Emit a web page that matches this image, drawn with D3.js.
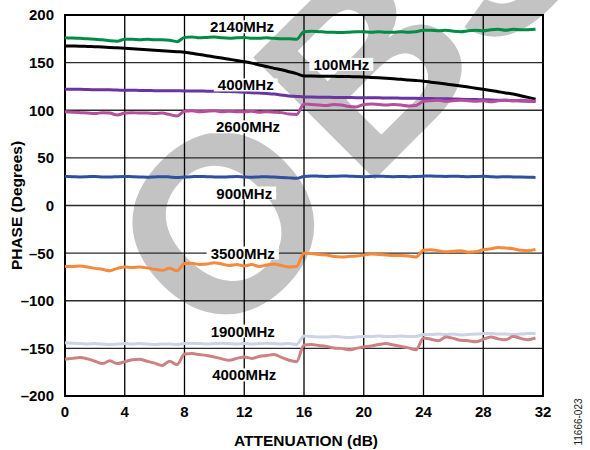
<!DOCTYPE html>
<html>
<head>
<meta charset="utf-8">
<script src="https://cdn.jsdelivr.net/npm/d3@7"></script>
<style>
  body { margin: 0; background: #fff; }
  svg text { font-family: "Liberation Sans", Arial, sans-serif; }
</style>
</head>
<body>
<svg id="chart"></svg>
<script>
const width = 590;
const height = 450;
const margin = { top: 15, right: 47, bottom: 54, left: 65 };

// attenuation steps, 0.5 dB
const attenuation = d3.range(0, 32, 0.5);

const xTicks = [0, 4, 8, 12, 16, 20, 24, 28, 32];
const yTicks = [-200, -150, -100, -50, 0, 50, 100, 150, 200];

const mhz2140 = [
  176, 175.8, 175.5, 175, 174.5, 174, 173, 172.5, 174.5, 174.5, 174, 174.5, 174, 174, 173.5, 172,
  176.5, 177, 176, 176.5, 177, 176, 175.5, 176, 176.5, 175.5, 175.5, 176, 175.5, 175, 175, 174.5,
  182.5, 183, 182.5, 182, 182, 181.5, 182, 182.5, 182.5, 182, 182.5, 182, 182, 182.5, 182, 182.5,
  184, 184, 183.5, 184, 183, 182.5, 183.5, 184, 183.5, 184.5, 185, 184, 185, 184.5, 184.5, 185
];
const mhz100 = [
  167.5, 167.4, 167.3, 167, 166.7, 166.4, 166, 165.5, 165, 164.5, 164, 163.5, 163, 162.5, 162, 161.5,
  161, 159.8, 158.5, 157.3, 156, 154.8, 153.5, 152.3, 151, 149.5, 147.5, 146, 144, 142.5, 140.5, 138.5,
  136, 135.9, 135.8, 135.7, 135.6, 135.5, 135.4, 135.2, 135, 134.5, 134, 133.5, 133, 132.5, 131.8, 131.2,
  130.5, 129.5, 128.5, 127.5, 126.5, 125.4, 124.3, 123.2, 122, 120.8, 119.5, 118.2, 117, 115.3, 113.5, 111.5
];
const mhz400 = [
  122, 122, 122, 121.8, 121.6, 121.5, 121.4, 121.2, 121, 121, 120.8, 120.7, 120.6, 120.5, 120.5, 120.4,
  120.3, 120.2, 120.2, 120, 120, 119.8, 119.6, 119.3, 119, 118.5, 118, 117.5, 117, 116, 115, 114.5,
  114, 113.8, 113.7, 113.6, 113.5, 113.4, 113.3, 113.2, 113.2, 113.1, 113, 112.9, 112.8, 112.7, 112.6, 112.5,
  112.4, 112.3, 112.1, 112, 111.8, 111.6, 111.4, 111.2, 111, 110.8, 110.6, 110.4, 110.1, 109.8, 109.5, 109.2
];
const mhz2600 = [
  98.5, 98, 97.5, 97, 96.5, 97.5, 97, 95, 97, 97.5, 97, 97, 96.5, 97, 95.5, 94,
  99, 99.5, 98.5, 99, 99.5, 98.5, 99, 98.5, 98.5, 99, 98, 98.5, 98, 97.5, 96, 95.5,
  106.5, 106, 105.5, 105, 106, 105.5, 104, 103.5, 106, 106.5, 106, 105.5, 106, 105.5, 104.5, 105,
  109.5, 110, 110.5, 109.5, 110, 110.5, 110, 109.5, 110, 109, 110, 110.5, 110, 110.5, 110, 109.5
];
const mhz900 = [
  30.5, 30.3, 30, 30.2, 30.5, 30, 29.8, 30.3, 30.5, 30.2, 30, 29.7, 30, 30.3, 30, 29.5,
  30, 30.3, 30.5, 30.2, 30, 29.8, 30.2, 30.5, 30, 29.7, 30, 30.2, 29.8, 29.5, 29, 28.5,
  30.5, 31, 30.8, 30.5, 30.7, 31, 30.8, 30.5, 30.3, 30.5, 30.8, 30.5, 30.3, 30.5, 30.2, 30.5,
  30.8, 31, 30.7, 30.5, 30.8, 30.5, 30.2, 30.5, 30.7, 30.3, 30, 30.2, 30, 29.8, 29.7, 29.5
];
const mhz3500 = [
  -64, -64, -63.5, -64.5, -66, -67, -68.5, -66, -64.5, -65, -64.5, -65.5, -67, -68, -66, -68.5,
  -61, -60.5, -62, -61.5, -60, -61.5, -63, -62, -63.5, -62, -64, -62.5, -61.5, -63, -64.5, -64,
  -50, -50.5, -51.5, -52, -53.5, -54, -53.5, -53, -52, -51, -51.5, -52, -52.5, -52.5, -53, -54,
  -47, -46.5, -47.5, -48.5, -48, -47.5, -49, -48.5, -46.5, -45.5, -44, -44.5, -45.5, -47, -47.5, -46
];
const mhz1900 = [
  -144, -144.5, -145, -145.5, -145, -145.5, -146, -145.5, -145, -145.5, -145, -145.5, -146, -145.5, -145.5, -146,
  -145, -144.5, -145, -145.5, -145, -144.5, -145, -145.5, -145, -145.5, -145, -144.5, -145, -145.5, -145, -146,
  -137, -137.5, -138, -138, -137.5, -138, -138.5, -138, -137.5, -137.5, -137, -137.5, -137.5, -137, -137.5, -137.5,
  -135.5, -135.5, -135, -135.5, -135, -136, -135.5, -135, -134.5, -134.5, -135, -135, -135.5, -135, -134.5, -134.5
];
const mhz4000 = [
  -161.5, -160.5, -159.5, -161, -163.5, -166, -163, -166, -164, -162, -161.5, -163.5, -165.5, -168, -163.5, -167,
  -156, -155.5, -156.5, -157.5, -159, -161, -162.5, -160.5, -159, -160.5, -158.5, -157.5, -156.5, -159.5, -162.5, -164,
  -146.5, -146, -147, -148, -149.5, -150, -151.5, -150, -148.5, -147.5, -146, -145, -146.5, -148, -149.5, -151.5,
  -139, -140.5, -142, -138, -139.5, -141.5, -142, -143, -140.5, -138, -140, -141, -137.5, -139.5, -141, -139
];

const series = [
  { name: "2140MHz", values: mhz2140, color: "#008c46", labelX: 11.85, labelY: 187.5 },
  { name: "100MHz", values: mhz100, color: "#000000", labelX: 18.5, labelY: 148 },
  { name: "400MHz", values: mhz400, color: "#6a35a0", labelX: 12.1, labelY: 126.5 },
  { name: "2600MHz", values: mhz2600, color: "#b64d9f", labelX: 12.25, labelY: 82.5 },
  { name: "900MHz", values: mhz900, color: "#2f4f9f", labelX: 12.0, labelY: 13 },
  { name: "3500MHz", values: mhz3500, color: "#f58a3c", labelX: 11.9, labelY: -50 },
  { name: "1900MHz", values: mhz1900, color: "#cad4e6", labelX: 11.9, labelY: -132 },
  { name: "4000MHz", values: mhz4000, color: "#cc8282", labelX: 12.0, labelY: -178 }
];

const svg = d3.select("#chart")
    .attr("width", width)
    .attr("height", height);

const x = d3.scaleLinear()
    .domain([0, 32])
    .range([margin.left, width - margin.right]);

const y = d3.scaleLinear()
    .domain([-200, 200])
    .range([height - margin.bottom, margin.top]);

// watermark, one letter at a time
const mark = svg.append("g")
    .style("font-size", "250px")
    .style("font-weight", "bold")
    .attr("fill", "#c3c3c3");
mark.append("text").attr("transform", "translate(216,353) rotate(-45)").text("O");
mark.append("text").attr("transform", "translate(363,191) rotate(-45)").text("B");
mark.append("text").attr("transform", "translate(491,64) rotate(-45)").text("S");

// grid
svg.append("g")
    .selectAll("line")
    .data(yTicks)
    .enter()
    .append("line")
    .attr("x1", x(0))
    .attr("x2", x(32))
    .attr("y1", d => y(d))
    .attr("y2", d => y(d))
    .attr("stroke", "#2a2a2a")
    .attr("stroke-width", 1.3);

svg.append("g")
    .selectAll("line")
    .data(xTicks)
    .enter()
    .append("line")
    .attr("x1", d => x(d))
    .attr("x2", d => x(d))
    .attr("y1", y(-200))
    .attr("y2", y(200))
    .attr("stroke", "#000")
    .attr("stroke-width", 1.3);

svg.append("rect")
    .attr("x", x(0))
    .attr("y", y(200))
    .attr("width", x(32) - x(0))
    .attr("height", y(-200) - y(200))
    .attr("fill", "none")
    .attr("stroke", "#000")
    .attr("stroke-width", 2);

// lines
const line = d3.line()
    .x((d, i) => x(attenuation[i]))
    .y(d => y(d))
    .curve(d3.curveMonotoneX);

svg.append("g")
    .selectAll("path")
    .data(series)
    .enter()
    .append("path")
    .attr("d", d => line(d.values))
    .attr("fill", "none")
    .attr("stroke", d => d.color)
    .attr("stroke-width", 3)
    .attr("stroke-linejoin", "round");

// series labels with white boxes
const labels = svg.append("g")
    .selectAll("g")
    .data(series)
    .enter()
    .append("g")
    .attr("transform", d => `translate(${x(d.labelX)},${y(d.labelY)})`);

labels.append("text")
    .attr("text-anchor", "middle")
    .attr("dy", "0.36em")
    .style("font-size", "15px")
    .style("font-weight", "bold")
    .attr("fill", "#000")
    .text(d => d.name);

labels.each(function () {
    const g = d3.select(this);
    const box = g.select("text").node().getBBox();
    g.insert("rect", "text")
        .attr("x", box.x - 4)
        .attr("y", box.y + 2)
        .attr("width", box.width + 8)
        .attr("height", box.height - 4)
        .attr("fill", "#fff");
});

// tick labels
svg.append("g")
    .selectAll("text")
    .data(yTicks)
    .enter()
    .append("text")
    .attr("x", margin.left - 11)
    .attr("y", d => y(d))
    .attr("dy", "0.36em")
    .attr("text-anchor", "end")
    .style("font-size", "15px")
    .style("font-weight", "bold")
    .text(d => d < 0 ? "\u2013" + Math.abs(d) : d);

svg.append("g")
    .selectAll("text")
    .data(xTicks)
    .enter()
    .append("text")
    .attr("x", d => x(d))
    .attr("y", 417)
    .attr("text-anchor", "middle")
    .style("font-size", "15px")
    .style("font-weight", "bold")
    .text(d => d);

// axis titles
svg.append("text")
    .attr("x", (x(0) + x(32)) / 2 + 2)
    .attr("y", 446)
    .attr("text-anchor", "middle")
    .style("font-size", "15.5px")
    .style("font-weight", "bold")
    .text("ATTENUATION (dB)");

svg.append("text")
    .attr("transform", `translate(22,${(y(-200) + y(200)) / 2}) rotate(-90)`)
    .attr("text-anchor", "middle")
    .style("font-size", "15.5px")
    .style("font-weight", "bold")
    .text("PHASE (Degrees)");

svg.append("text")
    .attr("transform", "translate(582,422) rotate(-90)")
    .attr("text-anchor", "middle")
    .style("font-size", "10px")
    .attr("fill", "#222")
    .text("11666-023");
</script>
</body>
</html>
